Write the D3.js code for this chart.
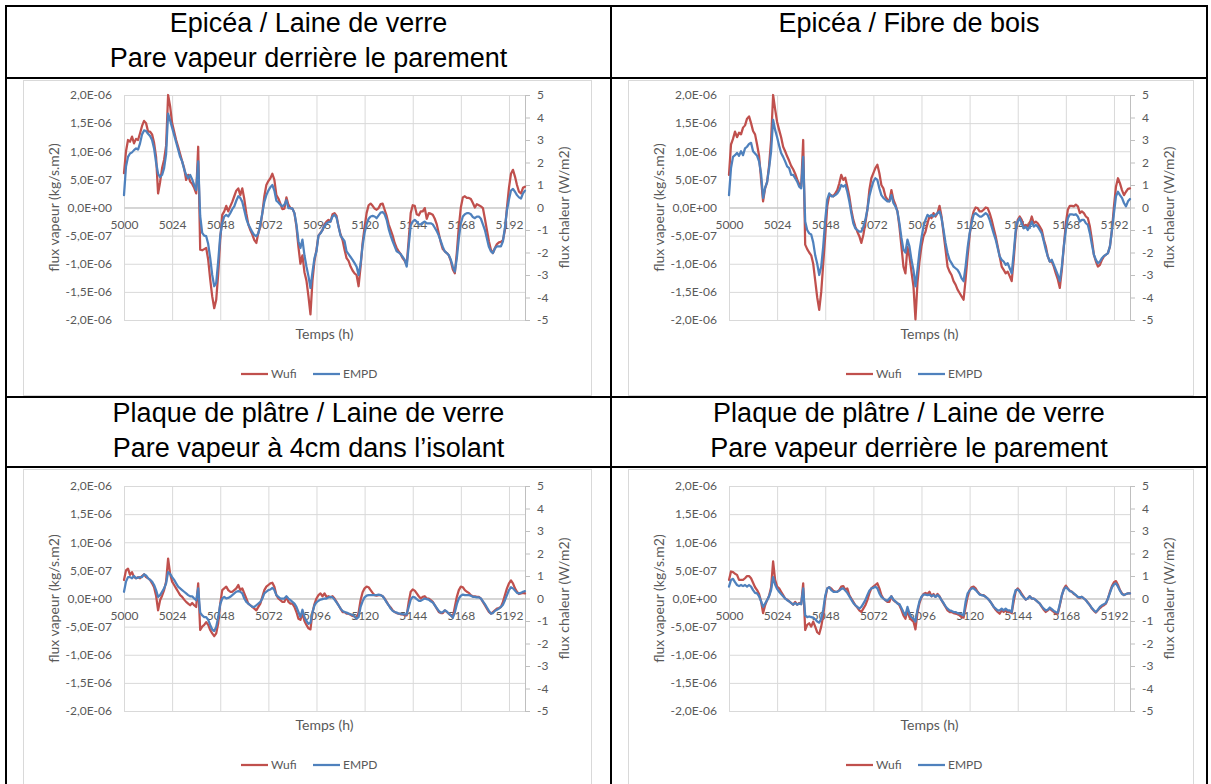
<!DOCTYPE html>
<html>
<head>
<meta charset="utf-8">
<script src="https://cdn.jsdelivr.net/npm/d3@7"></script>
<style>
  body { margin: 0; background: #fff; }
  svg { display: block; }
  .tick text { font-family: Lato, "Open Sans", sans-serif; font-size: 12px; fill: #595959; }
</style>
</head>
<body>
<svg id="page" width="1211" height="784"></svg>
<script>
// time steps (h) and axis ticks
var hours = d3.range(5000, 5201);
var xTicks = [5000, 5024, 5048, 5072, 5096, 5120, 5144, 5168, 5192];
var yTicks = [-2, -1.5, -1, -0.5, 0, 0.5, 1, 1.5, 2];          // x 1E-06 kg/s.m2
var yRightTicks = [-5, -4, -3, -2, -1, 0, 1, 2, 3, 4, 5];        // W/m2
var seriesNames = ["Wufi", "EMPD"];
var seriesColors = ["#c0504d", "#4f81bd"];

var titles = [
  ["Epicéa / Laine de verre", "Pare vapeur derrière le parement"],
  ["Epicéa / Fibre de bois"],
  ["Plaque de plâtre / Laine de verre", "Pare vapeur à 4cm dans l’isolant"],
  ["Plaque de plâtre / Laine de verre", "Pare vapeur derrière le parement"]
];

// flux vapeur, x 1E-06 kg/s.m2, one value per hour 5000..5200
var wufi1 = [
  0.61,1.0,1.2,1.17,1.26,1.14,1.22,1.2,1.32,1.45,1.54,1.5,1.35,1.35,1.3,1.15,0.9,0.25,0.45,0.7,0.85,1.1,2.0,1.8,
  1.5,1.35,1.2,1.08,0.95,0.82,0.7,0.49,0.58,0.46,0.42,0.35,0.25,1.08,-0.75,-0.76,-0.74,-0.72,-0.93,-1.28,-1.58,-1.79,-1.64,-1.17,
  -0.57,-0.13,-0.07,0.03,-0.07,0.02,0.1,0.2,0.3,0.34,0.22,0.34,0.15,-0.1,-0.3,-0.4,-0.48,-0.58,-0.63,-0.45,-0.34,-0.1,0.2,0.4,
  0.47,0.52,0.6,0.49,0.22,0.16,0.07,-0.03,-0.02,0.18,0.05,-0.01,-0.02,-0.1,-0.34,-0.7,-1.0,-0.85,-1.15,-1.3,-1.58,-1.9,-1.3,-0.95,
  -0.75,-0.5,-0.45,-0.4,-0.3,-0.25,-0.22,-0.25,-0.12,-0.1,-0.15,-0.34,-0.48,-0.58,-0.75,-0.9,-0.95,-1.05,-1.12,-1.17,-1.2,-1.4,-1.05,-0.63,
  -0.35,-0.1,0.04,0.07,0.03,-0.02,-0.04,-0.01,0.06,0.07,-0.04,-0.15,-0.3,-0.4,-0.5,-0.63,-0.72,-0.78,-0.83,-0.9,-0.95,-1.02,-0.57,-0.1,
  0.04,0.03,-0.12,-0.14,-0.07,-0.07,-0.01,-0.2,-0.1,-0.11,-0.13,-0.2,-0.3,-0.46,-0.62,-0.74,-0.78,-0.81,-0.85,-0.95,-1.1,-1.17,-0.8,-0.34,
  0.0,0.18,0.2,0.17,0.17,0.15,0.08,0.0,0.06,0.04,0.02,-0.01,-0.2,-0.4,-0.6,-0.75,-0.81,-0.72,-0.65,-0.62,-0.61,-0.58,-0.4,0.0,
  0.35,0.6,0.67,0.55,0.4,0.28,0.25,0.35,0.37
];
var empd1 = [
  0.22,0.73,0.9,0.96,0.98,1.02,1.05,1.03,1.14,1.3,1.37,1.36,1.31,1.27,1.2,1.05,0.8,0.6,0.54,0.58,0.7,0.95,1.67,1.55,
  1.42,1.29,1.16,1.03,0.9,0.82,0.68,0.58,0.52,0.58,0.5,0.4,0.31,0.82,-0.15,-0.45,-0.5,-0.51,-0.65,-0.9,-1.2,-1.4,-1.34,-0.95,
  -0.5,-0.28,-0.16,-0.13,-0.16,-0.1,-0.03,0.02,0.12,0.2,0.17,0.1,-0.05,-0.2,-0.3,-0.37,-0.44,-0.49,-0.51,-0.46,-0.3,-0.1,0.1,0.22,
  0.3,0.36,0.4,0.3,0.12,0.09,0.05,0.02,0.05,0.13,-0.01,-0.01,-0.02,-0.1,-0.3,-0.6,-0.72,-0.57,-0.85,-1.05,-1.22,-1.43,-1.15,-0.9,
  -0.78,-0.5,-0.46,-0.4,-0.33,-0.28,-0.26,-0.25,-0.16,-0.13,-0.18,-0.34,-0.5,-0.55,-0.6,-0.78,-0.83,-0.88,-0.93,-0.99,-1.05,-1.2,-1.0,-0.68,
  -0.45,-0.3,-0.2,-0.16,-0.15,-0.16,-0.19,-0.14,-0.09,-0.08,-0.12,-0.22,-0.38,-0.5,-0.6,-0.69,-0.78,-0.8,-0.83,-0.88,-0.93,-1.05,-0.68,-0.32,
  -0.25,-0.22,-0.25,-0.3,-0.3,-0.27,-0.25,-0.28,-0.28,-0.28,-0.3,-0.36,-0.42,-0.5,-0.6,-0.7,-0.78,-0.81,-0.85,-0.93,-1.05,-1.14,-0.9,-0.55,
  -0.28,-0.16,-0.12,-0.1,-0.1,-0.12,-0.17,-0.19,-0.16,-0.16,-0.2,-0.3,-0.4,-0.55,-0.7,-0.78,-0.81,-0.73,-0.69,-0.69,-0.69,-0.6,-0.35,-0.05,
  0.14,0.3,0.33,0.28,0.22,0.18,0.16,0.25,0.3
];
var wufi2 = [
  0.58,1.12,1.22,1.35,1.25,1.33,1.3,1.42,1.46,1.58,1.62,1.5,1.36,1.3,1.12,0.92,0.5,0.11,0.34,0.45,0.75,1.2,2.0,1.75,
  1.52,1.38,1.25,1.08,1.0,0.91,0.83,0.74,0.68,0.6,0.5,0.42,0.37,1.2,-0.66,-0.74,-0.8,-0.85,-1.0,-1.3,-1.6,-1.82,-1.5,-1.0,
  -0.5,0.02,0.22,0.22,0.2,0.25,0.31,0.43,0.58,0.49,0.53,0.37,0.2,-0.04,-0.22,-0.34,-0.43,-0.51,-0.63,-0.49,-0.28,-0.04,0.31,0.52,
  0.61,0.7,0.76,0.61,0.4,0.34,0.2,0.14,0.11,0.31,0.14,0.05,-0.07,-0.34,-0.69,-1.05,-1.17,-0.7,-0.87,-1.14,-1.4,-1.99,-1.34,-0.96,
  -0.69,-0.51,-0.43,-0.28,-0.16,-0.19,-0.1,-0.16,-0.1,0.03,-0.16,-0.46,-0.75,-1.05,-1.14,-1.2,-1.31,-1.37,-1.46,-1.52,-1.58,-1.64,-1.28,-0.87,
  -0.51,-0.22,-0.07,0.0,-0.01,-0.07,-0.07,-0.04,0.0,-0.01,-0.1,-0.22,-0.37,-0.51,-0.69,-0.87,-1.05,-1.11,-1.17,-1.14,-1.22,-1.31,-0.93,-0.46,
  -0.22,-0.16,-0.22,-0.34,-0.31,-0.34,-0.28,-0.16,-0.28,-0.25,-0.28,-0.34,-0.4,-0.57,-0.69,-0.87,-0.96,-0.96,-1.05,-1.17,-1.28,-1.43,-1.11,-0.69,
  -0.28,-0.04,0.03,0.03,0.02,0.05,0.02,-0.1,-0.07,-0.1,-0.16,-0.19,-0.34,-0.57,-0.84,-0.96,-1.05,-1.02,-0.93,-0.87,-0.84,-0.81,-0.69,-0.4,
  0.02,0.37,0.52,0.43,0.31,0.22,0.28,0.33,0.34
];
var empd2 = [
  0.22,0.7,0.9,0.93,0.97,0.92,1.0,0.93,1.05,1.08,1.13,1.15,1.0,0.96,0.92,0.82,0.6,0.17,0.35,0.45,0.7,1.0,1.56,1.38,
  1.25,1.1,0.97,0.9,0.82,0.73,0.7,0.58,0.58,0.52,0.46,0.37,0.34,0.9,-0.25,-0.4,-0.46,-0.48,-0.62,-0.85,-1.0,-1.2,-1.05,-0.69,
  -0.22,0.14,0.25,0.2,0.2,0.22,0.25,0.31,0.4,0.37,0.4,0.28,0.11,-0.1,-0.28,-0.37,-0.4,-0.43,-0.43,-0.34,-0.22,-0.04,0.2,0.34,
  0.46,0.52,0.49,0.34,0.22,0.17,0.14,0.11,0.11,0.22,0.08,0.02,-0.07,-0.28,-0.54,-0.75,-0.8,-0.57,-0.69,-0.93,-1.11,-1.4,-1.11,-0.78,
  -0.54,-0.34,-0.22,-0.13,-0.16,-0.13,-0.16,-0.13,-0.1,-0.07,-0.19,-0.4,-0.63,-0.81,-0.93,-0.99,-1.05,-1.08,-1.11,-1.17,-1.26,-1.31,-1.05,-0.72,
  -0.46,-0.28,-0.13,-0.1,-0.13,-0.16,-0.16,-0.13,-0.1,-0.13,-0.22,-0.34,-0.46,-0.57,-0.72,-0.87,-0.93,-0.96,-1.02,-0.99,-1.08,-1.17,-0.81,-0.4,
  -0.25,-0.19,-0.28,-0.37,-0.34,-0.4,-0.34,-0.25,-0.34,-0.31,-0.34,-0.4,-0.46,-0.6,-0.75,-0.87,-0.96,-0.93,-1.02,-1.11,-1.2,-1.31,-1.05,-0.69,
  -0.4,-0.19,-0.12,-0.12,-0.13,-0.12,-0.16,-0.25,-0.22,-0.22,-0.28,-0.31,-0.46,-0.66,-0.84,-0.93,-0.99,-0.96,-0.9,-0.86,-0.84,-0.81,-0.69,-0.4,
  -0.1,0.2,0.28,0.22,0.17,0.08,0.02,0.11,0.15
];
var wufi3 = [
  0.33,0.5,0.53,0.42,0.47,0.38,0.36,0.38,0.36,0.4,0.43,0.38,0.36,0.33,0.27,0.2,0.05,-0.21,-0.03,0.05,0.15,0.3,0.71,0.44,
  0.3,0.24,0.18,0.12,0.06,0.03,-0.02,-0.06,-0.09,-0.12,-0.08,-0.12,-0.15,0.27,-0.56,-0.5,-0.47,-0.42,-0.47,-0.56,-0.62,-0.67,-0.62,-0.44,
  -0.09,0.15,0.18,0.21,0.15,0.12,0.12,0.15,0.18,0.24,0.15,0.18,0.09,0.0,-0.09,-0.12,-0.15,-0.18,-0.21,-0.15,-0.09,0.03,0.15,0.21,
  0.24,0.27,0.28,0.21,0.06,0.0,-0.03,-0.06,-0.06,0.03,-0.06,-0.09,-0.09,-0.15,-0.24,-0.36,-0.38,-0.26,-0.4,-0.47,-0.53,-0.55,-0.25,-0.1,
  0.0,0.06,0.09,0.04,0.09,0.03,0.04,0.02,0.04,0.0,-0.06,-0.12,-0.18,-0.24,-0.24,-0.27,-0.27,-0.29,-0.31,-0.32,-0.36,-0.25,-0.03,0.11,
  0.18,0.21,0.2,0.15,0.1,0.06,0.05,0.06,0.06,0.04,0.0,-0.06,-0.12,-0.16,-0.21,-0.24,-0.26,-0.27,-0.28,-0.28,-0.3,-0.3,-0.06,0.12,
  0.16,0.14,0.09,0.04,0.0,0.03,0.04,0.0,0.0,-0.03,-0.06,-0.12,-0.18,-0.24,-0.26,-0.26,-0.21,-0.24,-0.27,-0.3,-0.33,-0.15,0.03,0.15,
  0.21,0.2,0.15,0.12,0.1,0.06,0.04,0.04,0.03,0.03,0.0,-0.06,-0.12,-0.18,-0.24,-0.27,-0.24,-0.21,-0.18,-0.17,-0.15,-0.06,0.06,0.18,
  0.27,0.32,0.27,0.18,0.12,0.08,0.09,0.1,0.09
];
var empd3 = [
  0.12,0.3,0.38,0.38,0.36,0.4,0.36,0.37,0.38,0.38,0.43,0.41,0.36,0.33,0.3,0.24,0.15,0.03,0.06,0.12,0.18,0.27,0.47,0.44,
  0.38,0.33,0.27,0.21,0.18,0.15,0.12,0.09,0.06,0.04,0.04,0.0,-0.03,0.18,-0.25,-0.3,-0.33,-0.33,-0.38,-0.47,-0.55,-0.58,-0.5,-0.33,
  -0.1,0.0,0.03,0.0,0.01,0.03,0.06,0.09,0.12,0.13,0.12,0.09,0.0,-0.06,-0.09,-0.12,-0.15,-0.15,-0.12,-0.09,-0.06,0.0,0.09,0.12,
  0.15,0.16,0.19,0.15,0.06,0.03,0.0,0.0,0.0,0.04,0.0,-0.03,-0.06,-0.09,-0.15,-0.24,-0.33,-0.2,-0.33,-0.4,-0.45,-0.43,-0.25,-0.12,
  -0.07,-0.04,-0.02,-0.01,0.0,0.0,0.02,0.03,0.02,-0.02,-0.07,-0.12,-0.18,-0.22,-0.24,-0.25,-0.27,-0.28,-0.29,-0.32,-0.36,-0.33,-0.15,-0.05,
  0.02,0.05,0.06,0.06,0.06,0.06,0.06,0.07,0.06,0.04,-0.01,-0.07,-0.12,-0.18,-0.22,-0.24,-0.25,-0.27,-0.27,-0.28,-0.28,-0.28,-0.15,-0.02,
  0.03,0.02,-0.01,-0.04,-0.04,-0.02,0.0,-0.01,-0.02,-0.05,-0.07,-0.12,-0.17,-0.22,-0.25,-0.24,-0.21,-0.23,-0.27,-0.3,-0.34,-0.25,-0.1,0.0,
  0.05,0.07,0.06,0.06,0.06,0.05,0.03,0.03,0.02,0.02,0.0,-0.05,-0.1,-0.16,-0.22,-0.27,-0.26,-0.22,-0.2,-0.18,-0.15,-0.11,-0.03,0.06,
  0.15,0.2,0.18,0.14,0.1,0.09,0.1,0.12,0.13
];
var wufi4 = [
  0.33,0.48,0.47,0.44,0.42,0.33,0.33,0.33,0.36,0.4,0.4,0.36,0.28,0.2,0.15,0.08,-0.05,-0.26,-0.12,-0.03,0.05,0.2,0.66,0.33,
  0.21,0.18,0.12,0.06,0.0,-0.02,-0.05,-0.08,-0.11,-0.06,-0.11,-0.08,-0.1,0.27,-0.56,-0.47,-0.44,-0.5,-0.41,-0.5,-0.6,-0.63,-0.5,-0.3,
  0.0,0.18,0.2,0.18,0.14,0.12,0.12,0.15,0.21,0.22,0.15,0.18,0.06,0.0,-0.06,-0.12,-0.16,-0.21,-0.24,-0.18,-0.12,-0.03,0.09,0.18,
  0.21,0.24,0.27,0.18,0.06,0.0,-0.03,-0.06,-0.06,0.04,-0.03,-0.06,-0.08,-0.12,-0.2,-0.3,-0.36,-0.21,-0.33,-0.38,-0.41,-0.55,-0.25,-0.08,
  0.02,0.08,0.1,0.08,0.12,0.04,0.08,0.03,0.08,0.04,-0.03,-0.09,-0.15,-0.21,-0.24,-0.24,-0.26,-0.27,-0.28,-0.3,-0.33,-0.34,-0.15,0.03,
  0.15,0.2,0.21,0.18,0.12,0.08,0.06,0.06,0.03,0.0,-0.04,-0.09,-0.15,-0.2,-0.24,-0.27,-0.21,-0.24,-0.21,-0.24,-0.24,-0.26,-0.05,0.13,
  0.18,0.14,0.08,0.03,-0.02,0.0,0.04,0.0,0.0,-0.03,-0.06,-0.09,-0.15,-0.2,-0.24,-0.21,-0.18,-0.21,-0.24,-0.27,-0.27,-0.12,0.05,0.17,
  0.23,0.18,0.14,0.12,0.08,0.06,0.02,0.01,0.03,0.0,-0.03,-0.07,-0.12,-0.18,-0.22,-0.25,-0.21,-0.17,-0.14,-0.12,-0.09,0.0,0.12,0.22,
  0.29,0.31,0.24,0.15,0.09,0.06,0.08,0.09,0.09
];
var empd4 = [
  0.21,0.33,0.35,0.29,0.24,0.22,0.24,0.22,0.24,0.21,0.24,0.21,0.15,0.1,0.09,0.04,-0.05,-0.15,-0.09,-0.03,0.04,0.15,0.38,0.25,
  0.17,0.12,0.08,0.04,0.0,-0.03,-0.05,-0.08,-0.11,-0.08,-0.11,-0.09,-0.1,0.18,-0.3,-0.33,-0.32,-0.33,-0.34,-0.37,-0.41,-0.43,-0.36,-0.2,
  0.05,0.18,0.2,0.15,0.12,0.12,0.12,0.14,0.17,0.18,0.14,0.1,0.04,-0.02,-0.08,-0.12,-0.15,-0.18,-0.15,-0.09,-0.03,0.06,0.14,0.18,
  0.19,0.21,0.18,0.09,0.03,0.0,-0.03,-0.04,0.0,0.04,-0.02,-0.05,-0.09,-0.1,-0.17,-0.24,-0.3,-0.15,-0.27,-0.33,-0.36,-0.41,-0.2,-0.05,
  0.03,0.07,0.07,0.06,0.07,0.04,0.06,0.03,0.06,0.03,-0.03,-0.08,-0.14,-0.18,-0.21,-0.22,-0.24,-0.24,-0.26,-0.27,-0.28,-0.3,-0.06,0.09,
  0.14,0.18,0.18,0.15,0.11,0.07,0.06,0.05,0.03,0.0,-0.04,-0.09,-0.15,-0.18,-0.21,-0.21,-0.18,-0.21,-0.18,-0.21,-0.21,-0.24,0.03,0.15,
  0.16,0.12,0.06,0.02,-0.02,0.0,0.04,0.0,0.0,-0.03,-0.06,-0.09,-0.14,-0.18,-0.21,-0.2,-0.16,-0.19,-0.22,-0.24,-0.25,-0.1,0.06,0.16,
  0.2,0.17,0.13,0.12,0.09,0.06,0.03,0.02,0.03,0.0,-0.03,-0.08,-0.12,-0.17,-0.21,-0.24,-0.2,-0.15,-0.12,-0.1,-0.08,0.0,0.1,0.2,
  0.25,0.27,0.21,0.14,0.08,0.06,0.08,0.09,0.09
];

///////////////////////////////////////////////////////////////
var svg = d3.select("#page");
var W = 401, H = 225;

// "2,0E-06" style labels
function sciFmt(v) {
    var s = (v * 1e-6).toExponential(1).split("e");
    var e = +s[1];
    return s[0].replace(".", ",") + "E" + (e < 0 ? "-" : "+") + String(Math.abs(e)).padStart(2, "0");
}

var x = d3.scaleLinear().domain([5000, 5200]).range([0, W]);
var y = d3.scaleLinear().domain([-2, 2]).range([H, 0]);
var yR = d3.scaleLinear().domain([-5, 5]).range([H, 0]);

// table cells: header text + chart box
var cols = [6, 611, 1207];
var rowsY = [6, 78, 397, 467];

function header(cx, top, lines) {
    lines.forEach(function (t, i) {
        svg.append("text")
            .attr("x", cx)
            .attr("y", top + 26 + i * 35)
            .attr("text-anchor", "middle")
            .style("font-family", "'Liberation Sans', Arial, sans-serif")
            .style("font-size", "27px")
            .style("fill", "#000")
            .text(t);
    });
}

function drawChart(left, top, wufi, empd) {
    var g = svg.append("g").attr("transform", "translate(" + left + "," + top + ")");

    // horizontal grid
    g.append("g")
        .call(d3.axisLeft(y).tickValues(yTicks).tickSize(-W).tickFormat(""))
        .call(function (a) { a.select(".domain").remove(); })
        .selectAll("line").attr("stroke", "#d9d9d9");

    // vertical grid
    g.append("g")
        .call(d3.axisBottom(x).tickValues(xTicks).tickSize(H).tickFormat(""))
        .call(function (a) { a.select(".domain").remove(); })
        .selectAll("line").attr("stroke", "#d9d9d9");

    // left labels
    g.append("g")
        .call(d3.axisLeft(y).tickValues(yTicks).tickSize(0).tickPadding(12).tickFormat(sciFmt))
        .select(".domain").remove();

    // right axis
    var ra = g.append("g")
        .attr("transform", "translate(" + W + ",0)")
        .call(d3.axisRight(yR).tickValues(yRightTicks).tickSize(5).tickPadding(7).tickSizeOuter(0)
            .tickFormat(function (d) { return String(d); }));
    ra.select(".domain").attr("stroke", "#bfbfbf");
    ra.selectAll("line").attr("stroke", "#bfbfbf");

    // x axis on 0
    var xa = g.append("g")
        .attr("transform", "translate(0," + y(0) + ")")
        .call(d3.axisBottom(x).tickValues(xTicks).tickSize(0).tickPadding(13).tickSizeOuter(0)
            .tickFormat(function (d) { return String(d); }));
    xa.select(".domain").attr("stroke", "#bfbfbf");

    // series
    var line = d3.line()
        .x(function (d, i) { return x(hours[i]); })
        .y(function (d) { return y(d); });
    [wufi, empd].forEach(function (s, k) {
        g.append("path")
            .attr("d", line(s))
            .attr("fill", "none")
            .attr("stroke", seriesColors[k])
            .attr("stroke-width", 2.25)
            .attr("stroke-linejoin", "round")
            .attr("stroke-linecap", "round");
    });

    // axis titles
    var tf = "Lato, 'Open Sans', sans-serif";
    g.append("text")
        .attr("transform", "translate(-70," + H / 2 + ") rotate(-90)")
        .attr("text-anchor", "middle").attr("dy", "0.35em")
        .style("font-family", tf).style("font-size", "14px").style("fill", "#595959")
        .text("flux vapeur (kg/s.m2)");
    g.append("text")
        .attr("transform", "translate(" + (W + 39) + "," + H / 2 + ") rotate(-90)")
        .attr("text-anchor", "middle").attr("dy", "0.35em")
        .style("font-family", tf).style("font-size", "14px").style("fill", "#595959")
        .text("flux chaleur (W/m2)");
    g.append("text")
        .attr("x", W / 2).attr("y", H + 14)
        .attr("text-anchor", "middle").attr("dy", "0.35em")
        .style("font-family", tf).style("font-size", "14px").style("fill", "#595959")
        .text("Temps (h)");

    // legend
    var lx = [117, 189];
    seriesNames.forEach(function (n, k) {
        g.append("line")
            .attr("x1", lx[k]).attr("x2", lx[k] + 27)
            .attr("y1", H + 54).attr("y2", H + 54)
            .attr("stroke", seriesColors[k]).attr("stroke-width", 2.25);
        g.append("text")
            .attr("x", lx[k] + 30).attr("y", H + 54).attr("dy", "0.35em")
            .style("font-family", tf).style("font-size", "12px").style("fill", "#595959")
            .text(n);
    });
}

// chart boxes
[[23, 80, 568, 315], [628, 80, 565, 315], [23, 469, 568, 330], [628, 469, 565, 330]].forEach(function (b) {
    svg.append("rect")
        .attr("x", b[0] + 0.5).attr("y", b[1] + 0.5)
        .attr("width", b[2]).attr("height", b[3])
        .attr("fill", "#fff").attr("stroke", "#d9d9d9");
});

header((cols[0] + cols[1]) / 2, rowsY[0], titles[0]);
header((cols[1] + cols[2]) / 2, rowsY[0] + (titles[1].length === 1 ? 0 : 0), titles[1]);
header((cols[0] + cols[1]) / 2, rowsY[2] - 1, titles[2]);
header((cols[1] + cols[2]) / 2, rowsY[2] - 1, titles[3]);

drawChart(124, 95, wufi1, empd1);
drawChart(729, 95, wufi2, empd2);
drawChart(124, 486, wufi3, empd3);
drawChart(729, 486, wufi4, empd4);

// table borders
cols.forEach(function (cx) {
    svg.append("line").attr("x1", cx).attr("x2", cx).attr("y1", 5).attr("y2", 784)
        .attr("stroke", "#000").attr("stroke-width", 2);
});
rowsY.forEach(function (ry) {
    svg.append("line").attr("x1", 5).attr("x2", 1208).attr("y1", ry).attr("y2", ry)
        .attr("stroke", "#000").attr("stroke-width", 2);
});
</script>
</body>
</html>
